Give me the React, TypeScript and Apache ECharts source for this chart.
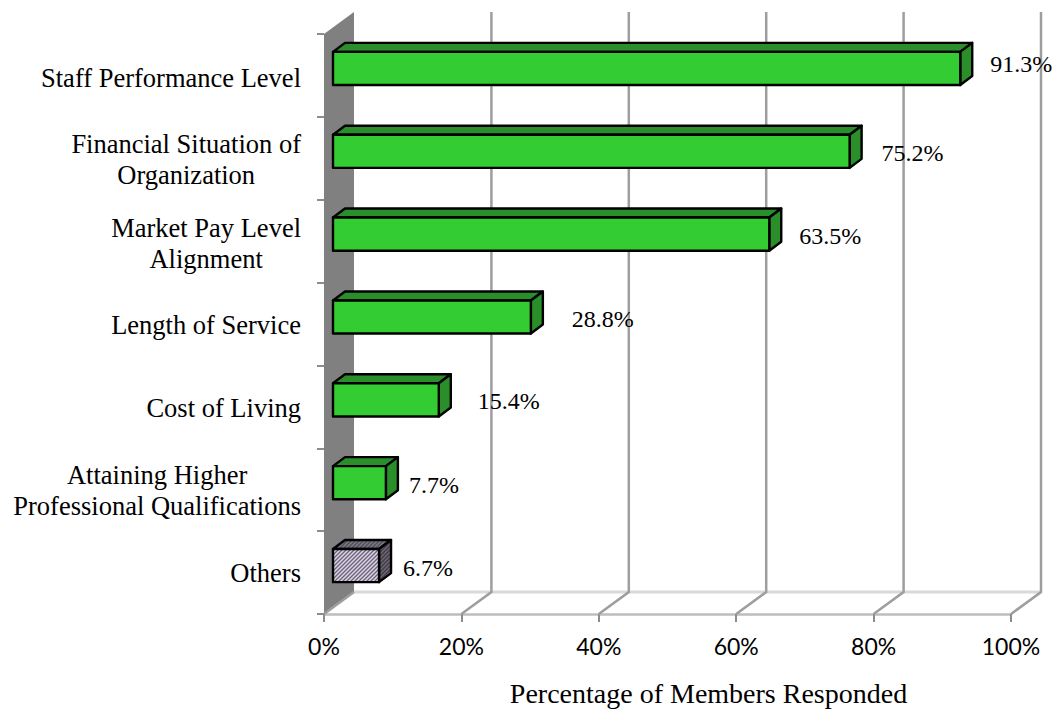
import React, { useEffect, useRef } from "react";
import * as echarts from "echarts";

const categories = [
  "Staff Performance Level",
  "{c|Financial Situation of}\n{c|Organization}",
  "{c|Market Pay Level}\n{c|Alignment}",
  "Length of Service",
  "Cost of Living",
  "{c|Attaining Higher}\n{c|Professional Qualifications}",
  "Others",
];
const values = [91.3, 75.2, 63.5, 28.8, 15.4, 7.7, 6.7];
const labelGaps = [30, 32, 30, 41, 39, 23, 24];
const labelShifts = [-4, 2, 2, 2, 1, 2, 2];
const categoryPads = [6, 2, 4, 2, 2, 2, 0];
const xTicks = [0, 20, 40, 60, 80, 100];
const hatchedIndex = 6;

const makePattern = (bg: string, fg: string, size = 4) => {
  const c = document.createElement("canvas");
  c.width = size;
  c.height = size;
  const g = c.getContext("2d")!;
  g.fillStyle = bg;
  g.fillRect(0, 0, size, size);
  g.strokeStyle = fg;
  g.lineWidth = 1.4;
  g.beginPath();
  g.moveTo(-1, size + 1);
  g.lineTo(size + 1, -1);
  g.moveTo(-1, 1);
  g.lineTo(1, -1);
  g.moveTo(size - 1, size + 1);
  g.lineTo(size + 1, size - 1);
  g.stroke();
  return { image: c, repeat: "repeat" as const };
};

export default function App() {
  const ref = useRef<HTMLDivElement>(null);
  useEffect(() => {
    document.body.style.margin = "0";
    const chart = echarts.init(ref.current!, null, { renderer: "svg" });
    const DX = 30, DY = -22;
    const BAR_DX = 9, BAR_DY = -7, DEPTH_X = 12, DEPTH_Y = -9;
    const hatchFront = makePattern("#dcd8e2", "#6f6280");
    const hatchTop = makePattern("#7f7a88", "#504c58");
    const hatchSide = makePattern("#6c6773", "#403c46");
    chart.setOption({
      animation: false,
      backgroundColor: "#ffffff",
      grid: { left: 324, right: 45, top: 34, bottom: 96, containLabel: false, outerBoundsMode: "none" },
      xAxis: {
        type: "value",
        min: 0,
        max: 100,
        interval: 20,
        splitLine: { show: false },
        axisLine: { show: true, lineStyle: { color: "#bdbdbd", width: 2.5 } },
        axisTick: { show: true, length: 8, lineStyle: { color: "#8c8c8c", width: 2 } },
        axisLabel: {
          formatter: "{value}%",
          margin: 20,
          color: "#000",
          fontFamily: "Lato",
          fontSize: 23,
        },
        name: "Percentage of Members Responded",
        nameLocation: "middle",
        nameGap: 65,
        nameTextStyle: {
          color: "#000",
          fontFamily: "Liberation Serif",
          fontSize: 28,
          padding: [0, 0, 0, 82],
        },
      },
      yAxis: {
        type: "category",
        inverse: true,
        data: categories.map((value, i) => ({
          value,
          textStyle: { padding: [categoryPads[i], 0, 0, 0] },
        })),
        splitLine: { show: false },
        axisLine: { show: false },
        axisTick: { show: true, length: 7, lineStyle: { color: "#8c8c8c", width: 2 } },
        axisLabel: {
          margin: 23,
          color: "#000",
          fontFamily: "Liberation Serif",
          fontSize: 26.5,
          lineHeight: 31,
          align: "right",
          rich: {
            c: {
              align: "center",
              color: "#000",
              fontFamily: "Liberation Serif",
              fontSize: 26.5,
              lineHeight: 31,
            },
          },
        },
      },
      series: [
        {
          type: "custom",
          clip: false,
          silent: true,
          z: 1,
          data: [[0, 0]],
          encode: { x: 0, y: 1 },
          renderItem: (params: any) => {
            const cs = params.coordSys;
            const l = cs.x, r = cs.x + cs.width, t = cs.y, b = cs.y + cs.height;
            return {
              type: "group",
              children: [
                {
                  type: "line",
                  shape: { x1: l + DX, y1: b + DY, x2: r + DX, y2: b + DY },
                  style: { stroke: "#d9d9d9", lineWidth: 3 },
                },
                {
                  type: "polygon",
                  shape: { points: [[l, t], [l + DX, t + DY], [l + DX, b + DY], [l, b]] },
                  style: { fill: "#808080", stroke: "none" },
                },
              ],
            };
          },
        },
        {
          type: "custom",
          clip: false,
          silent: true,
          z: 2,
          data: xTicks.map((t) => [t, 0]),
          encode: { x: 0, y: 1 },
          renderItem: (params: any, api: any) => {
            const cs = params.coordSys;
            const tick = api.value(0);
            const x = api.coord([tick, 0])[0];
            const b = cs.y + cs.height, t = cs.y;
            const pts = [[x, b], [x + DX, b + DY]];
            if (tick > 0) pts.push([x + DX, t + DY]);
            return {
              type: "polyline",
              shape: { points: pts },
              style: { stroke: "#9e9e9e", lineWidth: 2.5, fill: "none" },
            };
          },
        },
        {
          type: "custom",
          clip: false,
          silent: true,
          z: 3,
          data: values.map((v, i) => [v, i]),
          encode: { x: 0, y: 1 },
          renderItem: (params: any, api: any) => {
            const v = api.value(0);
            const i = api.value(1);
            const [xv, yc] = api.coord([v, i]);
            const x0 = api.coord([0, i])[0] + BAR_DX;
            const x1 = xv + BAR_DX;
            const h = api.size([0, 1])[1] * 0.4;
            const y0 = yc + BAR_DY - h / 2;
            const y1 = y0 + h;
            const hatched = i === hatchedIndex;
            const edge = { stroke: "#000", lineWidth: 2.4, lineJoin: "round" };
            return {
              type: "group",
              children: [
                {
                  type: "polygon",
                  shape: { points: [[x0, y0], [x0 + DEPTH_X, y0 + DEPTH_Y], [x1 + DEPTH_X, y0 + DEPTH_Y], [x1, y0]] },
                  style: { fill: hatched ? hatchTop : "#2a8f2a", ...edge },
                },
                {
                  type: "polygon",
                  shape: { points: [[x1, y0], [x1 + DEPTH_X, y0 + DEPTH_Y], [x1 + DEPTH_X, y1 + DEPTH_Y], [x1, y1]] },
                  style: { fill: hatched ? hatchSide : "#2a8f2a", ...edge },
                },
                {
                  type: "polygon",
                  shape: { points: [[x0, y0], [x1, y0], [x1, y1], [x0, y1]] },
                  style: { fill: hatched ? hatchFront : "#33cc33", ...edge },
                },
                {
                  type: "text",
                  style: {
                    x: x1 + labelGaps[i],
                    y: y0 + h / 2 + labelShifts[i],
                    text: `${v.toFixed(1)}%`,
                    fill: "#000",
                    font: '24px "Liberation Serif"',
                    textAlign: "left",
                    textVerticalAlign: "middle",
                  },
                },
              ],
            };
          },
        },
      ],
    });
    return () => chart.dispose();
  }, []);
  return (
    <div
      ref={ref}
      style={{ position: "absolute", left: 0, top: 0, width: 1056, height: 710 }}
    />
  );
}
